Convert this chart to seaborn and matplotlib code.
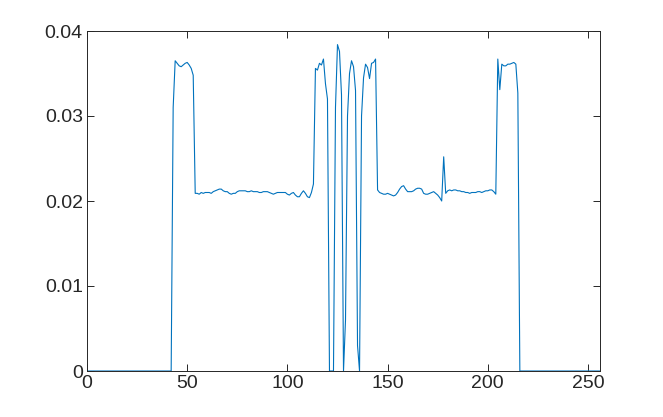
import numpy as np
import matplotlib
matplotlib.use("Agg")
import matplotlib.pyplot as plt
import seaborn as sns

# Bin positions 0..256
bins = list(range(257))

# Values, one per bin
lead_zeros = [0.0] * 43  # bins 0-42
plateau_1 = [0.0310, 0.0365, 0.0362, 0.0359, 0.0358, 0.0360, 0.0362, 0.0363, 0.0360, 0.0356,
             0.0348]  # bins 43-53
flat_1 = [0.0209, 0.0209, 0.0208, 0.0210, 0.0209, 0.0210, 0.0210, 0.0210, 0.0209, 0.0211,
          0.0212, 0.0213, 0.0214, 0.0214, 0.0212, 0.0211, 0.0211, 0.0209, 0.0208, 0.0209,
          0.0209, 0.0211, 0.0212, 0.0212, 0.0212, 0.0212, 0.0211, 0.0211, 0.0212, 0.0211,
          0.0211, 0.0211, 0.0210, 0.0210, 0.0211, 0.0211, 0.0211, 0.0210, 0.0209, 0.0208,
          0.0209, 0.0210, 0.0210, 0.0210, 0.0210, 0.0210, 0.0208, 0.0207, 0.0209, 0.0210,
          0.0207, 0.0205, 0.0205, 0.0209, 0.0212, 0.0209, 0.0205, 0.0204, 0.0210, 0.0220]  # bins 54-113
middle = [0.0356, 0.0354, 0.0362, 0.0360, 0.0367, 0.0338, 0.0320, 0.0, 0.0, 0.0,
          0.0310, 0.0384, 0.0376, 0.0325, 0.0, 0.0060, 0.0300, 0.0350, 0.0365, 0.0358,
          0.0330, 0.0030, 0.0, 0.0300, 0.0345, 0.0361, 0.0357, 0.0344, 0.0362, 0.0363,
          0.0367]  # bins 114-144
flat_2 = [0.0213, 0.0210, 0.0209, 0.0208, 0.0208, 0.0209, 0.0208, 0.0207, 0.0206, 0.0207,
          0.0210, 0.0214, 0.0217, 0.0218, 0.0214, 0.0211, 0.0211, 0.0211, 0.0212, 0.0214,
          0.0215, 0.0215, 0.0214, 0.0209, 0.0208, 0.0208, 0.0209, 0.0210, 0.0211, 0.0209,
          0.0207, 0.0204, 0.0200, 0.0252, 0.0209, 0.0212, 0.0213, 0.0212, 0.0213, 0.0213,
          0.0212, 0.0212, 0.0211, 0.0211, 0.0210, 0.0210, 0.0209, 0.0210, 0.0210, 0.0210,
          0.0211, 0.0211, 0.0210, 0.0211, 0.0212, 0.0212, 0.0213, 0.0213, 0.0211, 0.0208]  # bins 145-204
plateau_2 = [0.0367, 0.0331, 0.0361, 0.0359, 0.0359, 0.0361, 0.0361, 0.0362, 0.0363, 0.0361,
             0.0327]  # bins 205-215
tail_zeros = [0.0] * 41  # bins 216-256

values = lead_zeros + plateau_1 + flat_1 + middle + flat_2 + plateau_2 + tail_zeros

x_ticks = [0, 50, 100, 150, 200, 250]
y_ticks = [0, 0.01, 0.02, 0.03, 0.04]
y_tick_labels = ["0", "0.01", "0.02", "0.03", "0.04"]

sns.set_style("white")
plt.rcParams["font.family"] = ["Liberation Sans", "DejaVu Sans"]

fig = plt.figure(figsize=(6.63, 4.17), dpi=100)
ax = fig.add_axes([87 / 663, 46 / 417, 513 / 663, 340 / 417])

sns.lineplot(x=bins, y=values, ax=ax, color="#0072BD", linewidth=0.8)

ax.set_xlim(0, 256)
ax.set_ylim(0, 0.04)
ax.set_xticks(x_ticks)
ax.set_yticks(y_ticks)
ax.set_yticklabels(y_tick_labels)

dark = "#262626"
for side in ["left", "right", "top", "bottom"]:
    ax.spines[side].set_visible(True)
    ax.spines[side].set_color(dark)
    ax.spines[side].set_linewidth(0.7)
ax.tick_params(direction="in", length=5, width=0.7, color=dark, labelcolor=dark,
               labelsize=14, top=True, right=True, bottom=True, left=True, pad=3)
ax.set_xlabel("")
ax.set_ylabel("")

fig.savefig("out.png", dpi=100)
